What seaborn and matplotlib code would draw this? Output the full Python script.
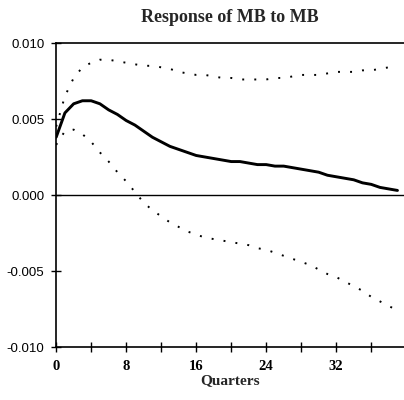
import numpy as np
import pandas as pd
import seaborn as sns
import matplotlib.pyplot as plt

# values, quarters 0..39
quarters = list(range(40))

response = [0.0038, 0.0054, 0.0060, 0.0062, 0.0062, 0.0060, 0.0056, 0.0053, 0.0049, 0.0046,
            0.0042, 0.0038, 0.0035, 0.0032, 0.0030, 0.0028, 0.0026, 0.0025, 0.0024, 0.0023,
            0.0022, 0.0022, 0.0021, 0.0020, 0.0020, 0.0019, 0.0019, 0.0018, 0.0017, 0.0016,
            0.0015, 0.0013, 0.0012, 0.0011, 0.0010, 0.0008, 0.0007, 0.0005, 0.0004, 0.0003]

upper_band = [0.0045, 0.0065, 0.0077, 0.0084, 0.0087, 0.0089, 0.0089, 0.0088, 0.0087, 0.0086,
              0.0085, 0.0085, 0.0084, 0.0083, 0.0081, 0.0080, 0.0079, 0.0079, 0.0078, 0.0077,
              0.0077, 0.0076, 0.0076, 0.0076, 0.0076, 0.0077, 0.0077, 0.0078, 0.0079, 0.0079,
              0.0079, 0.0080, 0.0081, 0.0081, 0.0081, 0.0082, 0.0082, 0.0083, 0.0084, 0.0084]

lower_band = [0.0033, 0.0042, 0.0043, 0.0040, 0.0035, 0.0028, 0.0022, 0.0015, 0.0009, 0.0002,
              -0.0005, -0.0010, -0.0014, -0.0018, -0.0021, -0.0024, -0.0026, -0.0028, -0.0029, -0.0030,
              -0.0031, -0.0032, -0.0033, -0.0035, -0.0036, -0.0038, -0.0040, -0.0042, -0.0044, -0.0046,
              -0.0049, -0.0052, -0.0054, -0.0057, -0.0060, -0.0063, -0.0067, -0.0070, -0.0073, -0.0076]

x_major = [0, 8, 16, 24, 32]
x_minor = [4, 12, 20, 28, 36]
y_ticks = [-0.010, -0.005, 0.000, 0.005, 0.010]
y_labels = ["-0.010", "-0.005", "0.000", "0.005", "0.010"]

df = pd.DataFrame({"Quarter": quarters, "Response": response,
                   "Upper": upper_band, "Lower": lower_band})

sns.set_style("ticks")
plt.rcParams['font.family'] = ['Liberation Serif', 'DejaVu Serif']

fig = plt.figure(figsize=(4.04, 4.0), dpi=100)
ax = fig.add_axes([0.139, 0.1325, 0.86, 0.76])

ax.axhline(0, color="black", lw=1.0, zorder=1)
sns.lineplot(data=df, x="Quarter", y="Upper", ax=ax, color="black", lw=1.4,
             linestyle=(0, (1, 5.2)))
sns.lineplot(data=df, x="Quarter", y="Lower", ax=ax, color="black", lw=1.4,
             linestyle=(0, (1, 5.2)))
sns.lineplot(data=df, x="Quarter", y="Response", ax=ax, color="black", lw=2.1)

ax.set_xlim(0, 39.7)
ax.set_ylim(-0.010, 0.010)
ax.set_xticks(x_major)
ax.set_xticks(x_minor, minor=True)
ax.set_xticklabels([str(v) for v in x_major], fontsize=10.5, fontweight="bold")
ax.set_yticks(y_ticks)
ax.set_yticklabels(y_labels, fontsize=9.5, family="Liberation Sans")
ax.tick_params(axis="both", which="both", direction="inout", length=7, width=1.0,
               color="black", labelcolor="black")
ax.tick_params(axis="x", pad=6)
ax.tick_params(axis="y", pad=5)

for side in ["left", "bottom", "top"]:
    ax.spines[side].set_color("black")
    ax.spines[side].set_linewidth(1.2)
ax.spines["right"].set_visible(False)

ax.set_xlabel("Quarters", fontsize=11, fontweight="bold", labelpad=1)
ax.set_ylabel("")
ax.set_title("Response of MB to MB", fontsize=13, fontweight="bold", pad=15)

fig.savefig("out.png", dpi=100)
